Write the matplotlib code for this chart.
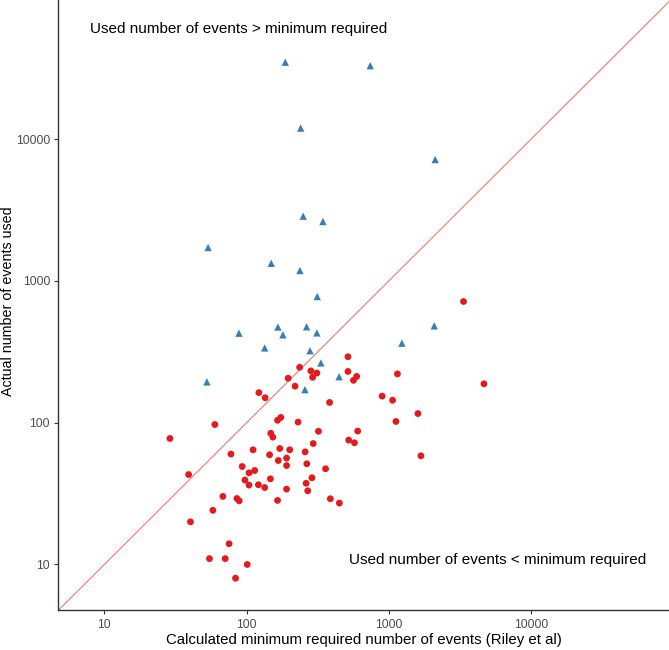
import matplotlib
matplotlib.use("Agg")
import matplotlib.pyplot as plt
from matplotlib.ticker import FixedLocator, FixedFormatter, NullLocator

plt.rcParams['font.family'] = ['Liberation Sans', 'DejaVu Sans']

# Studies where used events > minimum required (blue triangles)
above_required = [187, 740, 240, 2117, 250, 344, 53.6, 149, 237, 314, 166, 264,
                  2086, 88.3, 180, 312, 134, 279, 333, 1236, 447, 52.6, 257]
above_used = [34900, 33000, 11970, 7180, 2864, 2624, 1721, 1331, 1184, 776, 473, 475,
              482, 428, 417, 430, 337, 322, 264, 364, 211, 194, 171]

# Studies where used events < minimum required (red circles)
below_required = [3350, 516, 516, 594, 564, 236, 283, 312, 291, 196, 219, 122, 135, 383,
                  1149, 4664, 897, 1063, 1602, 1122, 1682, 604, 522, 573, 174, 165, 230,
                  59.8, 320, 148, 153, 28.9, 77.6, 111, 145, 171, 201, 167, 191, 191, 258,
                  294, 265, 359, 93.1, 104, 114, 39.1, 97.3, 147, 288, 104, 121, 134, 262,
                  269, 68.1, 85.5, 88.7, 165, 388, 449, 57.9, 40.3, 75.3, 54.8, 70.7, 101,
                  83.6, 191]
below_used = [716, 292, 230, 212, 199, 246, 232, 224, 209, 206, 181, 163, 150, 139,
              221, 188, 154, 144, 116, 102, 58.4, 87.3, 75.4, 72.2, 109, 104, 101,
              97.1, 87.0, 84.2, 79.1, 77.4, 60.1, 64.4, 59.4, 65.8, 64.4, 54.1, 56.3, 49.9,
              62.3, 71.3, 51.3, 47.3, 49.1, 44.3, 46.0, 43.1, 39.4, 40.2, 40.9, 36.3, 36.5,
              34.9, 37.4, 33.1, 30.2, 29.2, 28.1, 28.3, 29.1, 27.1, 24.1, 20.0, 14.0, 11.0,
              11.0, 10.0, 8.0, 34.0]

tick_values = [10, 100, 1000, 10000]
tick_labels = ["10", "100", "1000", "10000"]

lo, hi_x, hi_y = 4.75, 93300, 95900

fig = plt.figure(figsize=(6.69, 6.50), dpi=100)
ax = fig.add_axes([58.4 / 669, (650 - 610.3) / 650, 1 - 58.4 / 669, 610.3 / 650])

ax.plot([lo, 1e6], [lo, 1e6], color='#F5786A', lw=0.8, zorder=1)
ax.scatter(above_required, above_used, marker='^', s=28, color='#377EB8',
           edgecolors='none', zorder=3)
ax.scatter(below_required, below_used, marker='o', s=24, color='#E41A1C',
           edgecolors='none', zorder=3)

ax.set_xscale('log')
ax.set_yscale('log')
ax.set_xlim(lo, hi_x)
ax.set_ylim(lo, hi_y)
for axis in (ax.xaxis, ax.yaxis):
    axis.set_major_locator(FixedLocator(tick_values))
    axis.set_major_formatter(FixedFormatter(tick_labels))
    axis.set_minor_locator(NullLocator())

ax.tick_params(axis='both', which='major', length=3, width=0.8, color='#333333',
               labelcolor='#4D4D4D', labelsize=8.7, pad=3)
for side in ('top', 'right'):
    ax.spines[side].set_visible(False)
for side in ('left', 'bottom'):
    ax.spines[side].set_color('#333333')
    ax.spines[side].set_linewidth(1.0)

ax.set_xlabel("Calculated minimum required number of events (Riley et al)",
              fontsize=10.8, color='black')
ax.set_ylabel("Actual number of events used", fontsize=10.3, color='black')
ax.xaxis.set_label_coords(0.5, -0.037)
ax.yaxis.set_label_coords(-0.071, 0.507)

ax.text(0.051, 0.953, "Used number of events > minimum required", transform=ax.transAxes,
        ha='left', va='center', fontsize=11, color='black')
ax.text(0.4757, 0.0818, "Used number of events < minimum required", transform=ax.transAxes,
        ha='left', va='center', fontsize=11, color='black')

fig.savefig("out.png", dpi=100)
